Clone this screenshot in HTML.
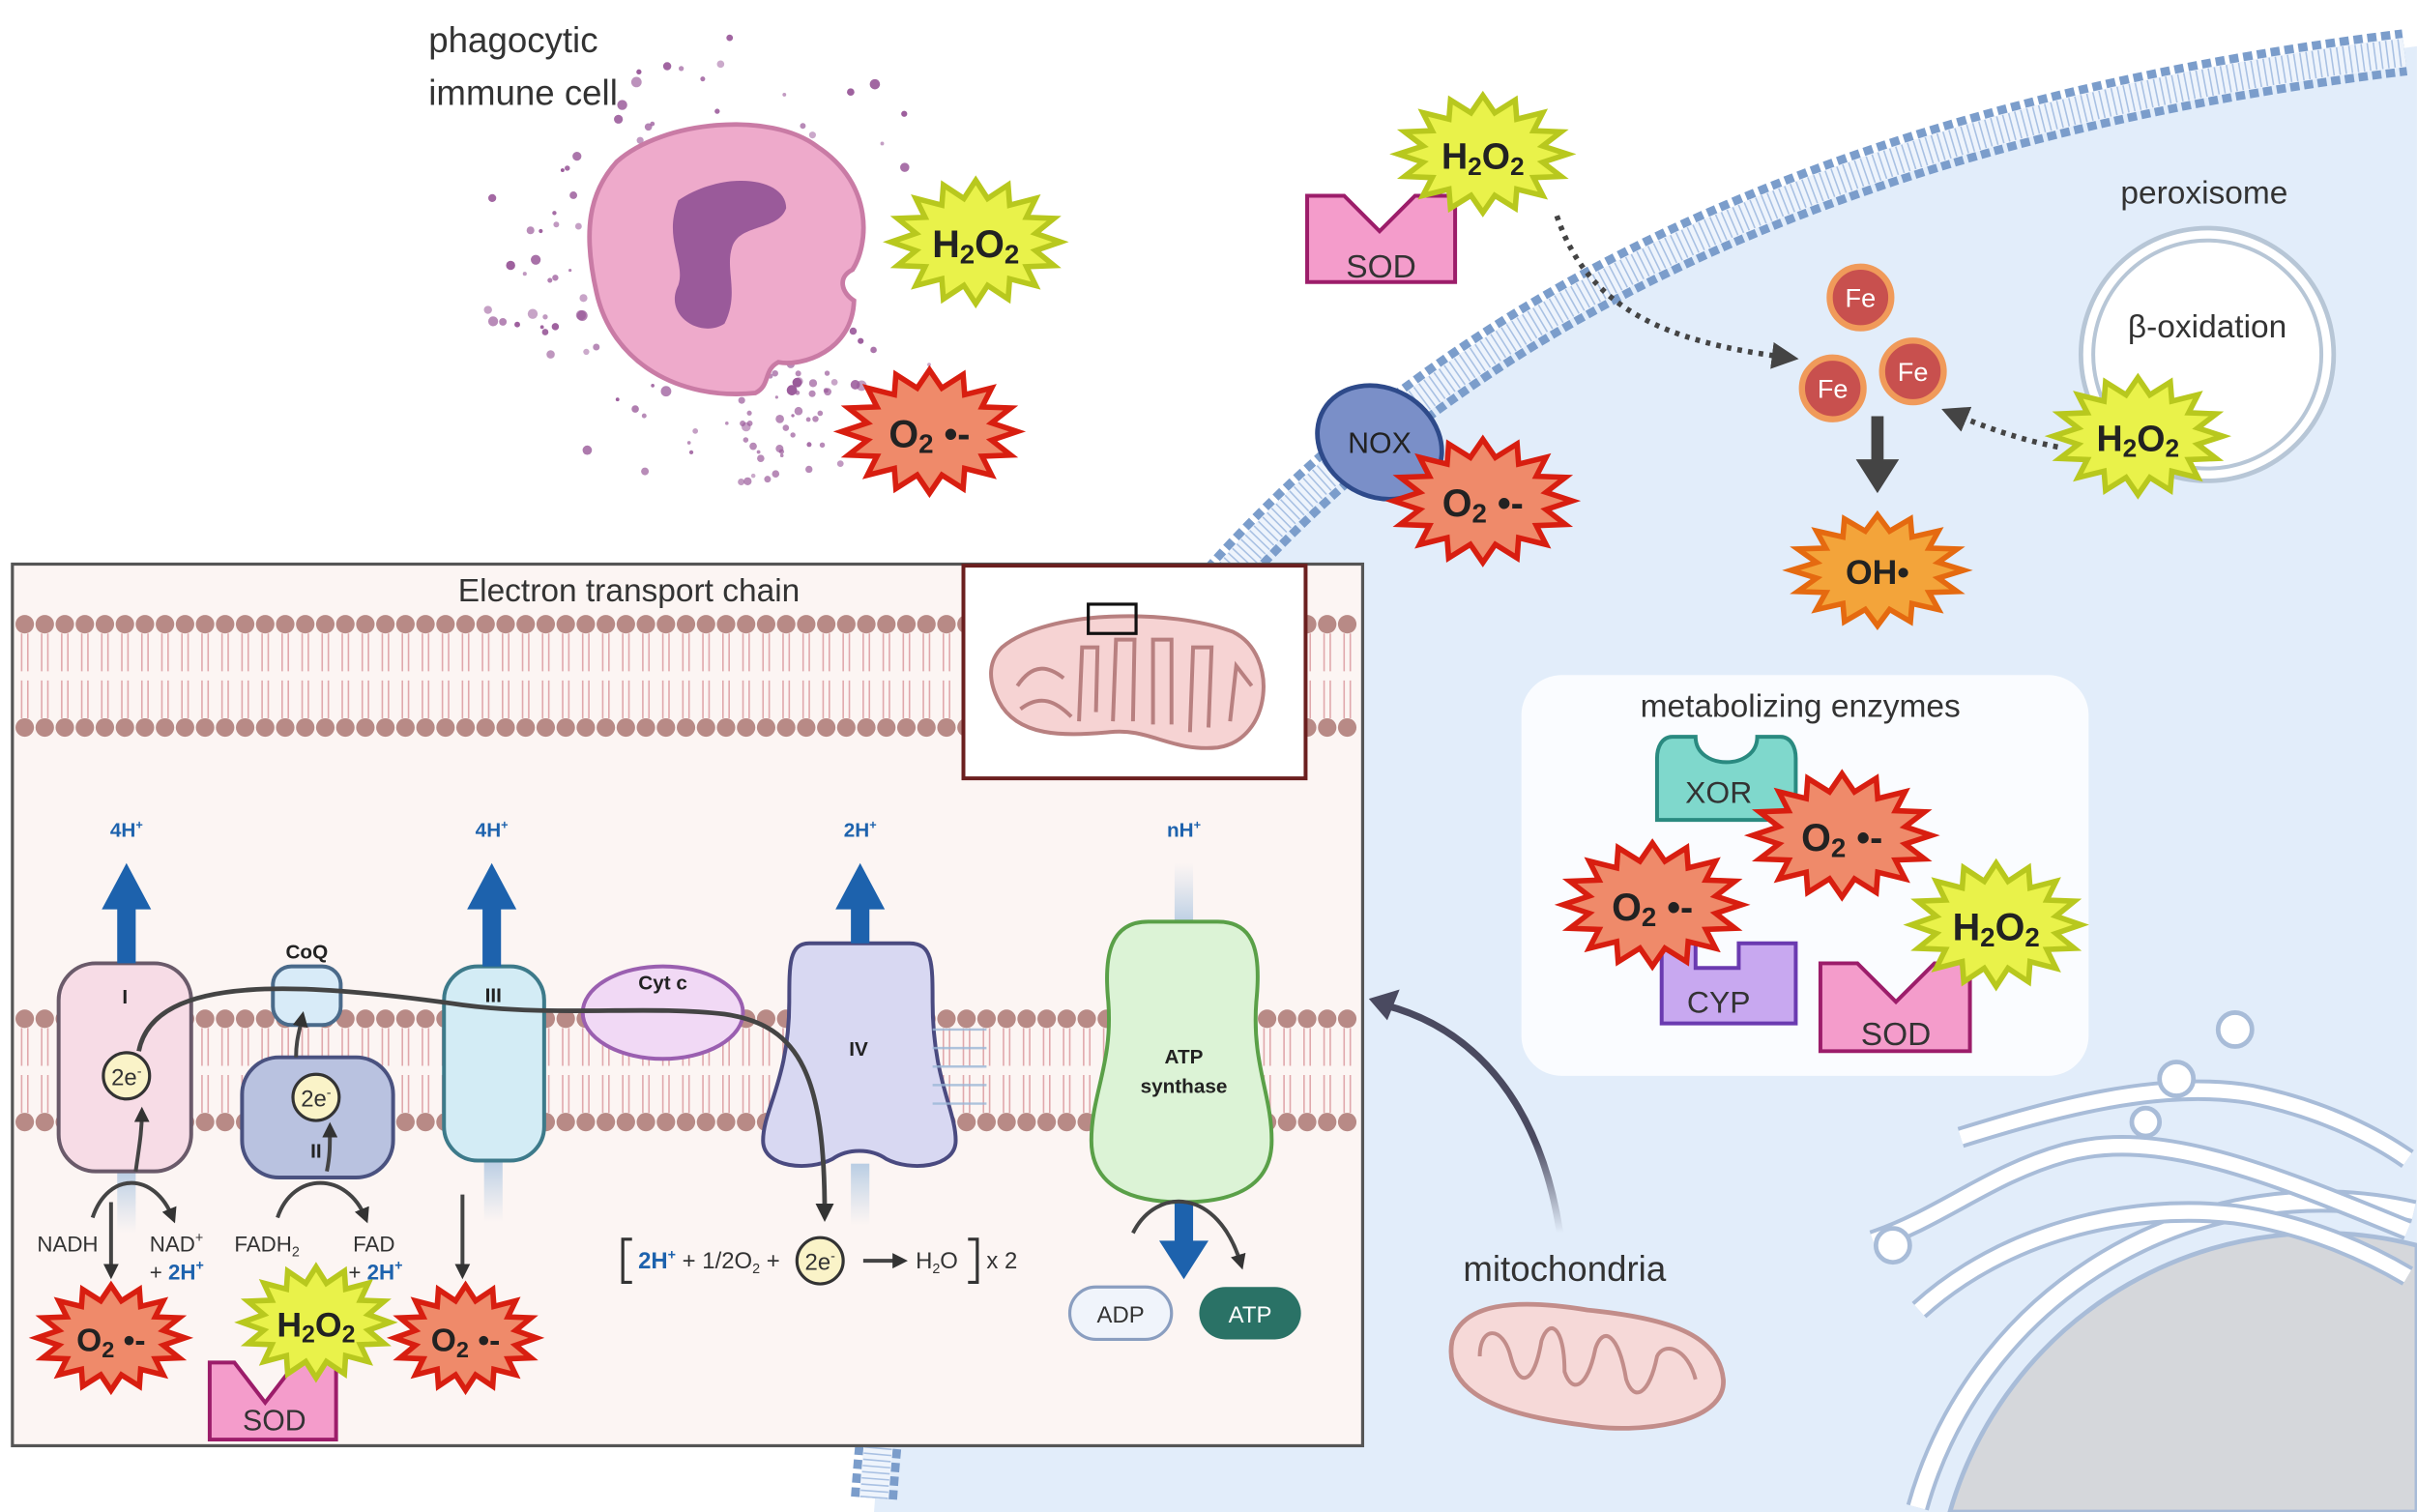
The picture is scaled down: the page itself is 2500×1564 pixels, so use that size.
<!DOCTYPE html>
<html><head><meta charset="utf-8">
<style>
html,body{margin:0;padding:0;background:#fff;width:2500px;height:1564px;overflow:hidden;}
svg{display:block;font-family:"Liberation Sans",sans-serif;}
</style></head>
<body>
<svg id="s" width="2500" height="1564" viewBox="0 0 1568 981" xmlns="http://www.w3.org/2000/svg">
<defs>
<linearGradient id="fade" x1="0" y1="1" x2="0" y2="0"><stop offset="0" stop-color="#4a4a60" stop-opacity="0"/><stop offset="0.4" stop-color="#4a4a60"/></linearGradient>
<linearGradient id="pale" x1="0" y1="0" x2="0" y2="1"><stop offset="0" stop-color="#c5d6e8" stop-opacity="0"/><stop offset="1" stop-color="#b9cde3"/></linearGradient>
<marker id="ah" viewBox="0 0 10 10" refX="6" refY="5" markerWidth="4" markerHeight="4" orient="auto"><path d="M0 0L10 5L0 10z" fill="#333"/></marker>
<marker id="ah2" viewBox="0 0 10 10" refX="6" refY="5" markerWidth="5" markerHeight="5" orient="auto"><path d="M0 0L10 5L0 10z" fill="#444"/></marker>
</defs>
<!-- cell -->
<path d="M567 981 C600 500 850 120 1568 30 L1568 981Z" fill="#e2edfa"/>
<path d="M567 972 C600 500 850 120 1560 34" fill="none" stroke="#7b9dcb" stroke-width="30" stroke-dasharray="6 3"/>
<path d="M567 972 C600 500 850 120 1560 34" fill="none" stroke="#eef4fc" stroke-width="19"/>
<path d="M567 972 C600 500 850 120 1560 34" fill="none" stroke="#a9c1e3" stroke-width="18" stroke-dasharray="1 3"/>
<!-- nucleus & ER -->
<path d="M1244 978 A272 272 0 0 1 1566 786" fill="none" stroke="#a8bcd8" stroke-width="15"/>
<path d="M1244 978 A272 272 0 0 1 1566 786" fill="none" stroke="#fff" stroke-width="10"/>
<path d="M1265 981 A250 250 0 0 1 1568 808 L1568 981Z" fill="#d5d7db" stroke="#a8bcd8" stroke-width="3"/>
<g fill="none">
<path d="M1215 805 C1260 790 1290 762 1340 748 C1400 732 1470 760 1562 798" stroke="#a8bcd8" stroke-width="14"/>
<path d="M1215 805 C1260 790 1290 762 1340 748 C1400 732 1470 760 1562 798" stroke="#fff" stroke-width="9"/>
<path d="M1245 850 C1300 800 1380 780 1450 788 C1500 795 1540 815 1562 828" stroke="#a8bcd8" stroke-width="14"/>
<path d="M1245 850 C1300 800 1380 780 1450 788 C1500 795 1540 815 1562 828" stroke="#fff" stroke-width="9"/>
<path d="M1272 738 C1330 720 1400 700 1460 710 C1510 720 1545 740 1562 752" stroke="#a8bcd8" stroke-width="14"/>
<path d="M1272 738 C1330 720 1400 700 1460 710 C1510 720 1545 740 1562 752" stroke="#fff" stroke-width="9"/>
</g>
<g fill="#fff" stroke="#a8bcd8" stroke-width="3">
<circle cx="1450" cy="668" r="11"/><circle cx="1412" cy="700" r="11"/><circle cx="1392" cy="728" r="9"/><circle cx="1228" cy="808" r="11"/>
</g>
<!-- phagocyte -->
<text x="278" y="34" font-size="23" fill="#333">phagocytic</text>
<text x="278" y="68" font-size="23" fill="#333">immune cell</text>
<g id="dots" fill="#9a5a9a"></g>
<path d="M400 105 C430 78 500 72 530 95 C568 120 563 160 553 175 C543 180 546 190 554 195 C553 228 520 238 505 235 C495 240 500 250 490 255 C440 260 397 235 387 190 C378 150 382 125 400 105Z" fill="#eeaacb" stroke="#c97ba5" stroke-width="3"/>
<path d="M440 130 C470 110 510 115 510 135 C505 150 480 145 475 160 C470 175 480 190 470 210 C455 220 430 205 440 185 C445 170 430 155 440 130Z" fill="#9a5a9a"/>
<!-- NOX -->
<ellipse cx="895" cy="287" rx="42" ry="35" transform="rotate(30 895 287)" fill="#7a8fc8" stroke="#2e4a8a" stroke-width="3"/>
<text x="895" y="294" font-size="19" text-anchor="middle" fill="#222">NOX</text>
<!-- SOD top -->
<path d="M848 127 L872 127 L895 150 L918 127 L944 127 L944 183 L848 183Z" fill="#f49ccb" stroke="#9c1d6a" stroke-width="2.5"/>
<text x="896" y="180" font-size="21" text-anchor="middle" fill="#333">SOD</text>
<!-- peroxisome -->
<circle cx="1432" cy="230" r="82" fill="#fff" stroke="#b7c6d6" stroke-width="3"/>
<circle cx="1432" cy="230" r="74" fill="#fff" stroke="#b7c6d6" stroke-width="2.5"/>
<text x="1430" y="132" font-size="21" text-anchor="middle" fill="#333">peroxisome</text>
<text x="1432" y="219" font-size="21" text-anchor="middle" fill="#333">β-oxidation</text>
<!-- dotted arrows -->
<path d="M1010 140 C1030 200 1080 222 1160 232" fill="none" stroke="#444" stroke-width="3.5" stroke-dasharray="3 4" marker-end="url(#ah2)"/>
<path d="M1335 290 C1310 285 1290 278 1266 268" fill="none" stroke="#444" stroke-width="3.5" stroke-dasharray="3 4" marker-end="url(#ah2)"/>
<!-- Fe -->
<g fill="#c8504e" stroke="#f09a5a" stroke-width="4">
<circle cx="1207" cy="193" r="20"/><circle cx="1189" cy="252" r="20"/><circle cx="1241" cy="241" r="20"/></g>
<g font-size="17" fill="#fff" text-anchor="middle"><text x="1207" y="199">Fe</text><text x="1189" y="258">Fe</text><text x="1241" y="247">Fe</text></g>
<path d="M1214 270 L1214 298 L1204 298 L1218 320 L1232 298 L1222 298 L1222 270Z" fill="#444"/>
<!-- metabolizing -->
<rect x="987" y="438" width="368" height="260" rx="26" fill="#fafcff"/>
<text x="1168" y="465" font-size="21" text-anchor="middle" fill="#333">metabolizing enzymes</text>
<path d="M1085 478 L1100 478 C1100 500 1140 500 1140 478 L1155 478 C1162 478 1165 485 1165 492 L1165 532 L1075 532 L1075 492 C1075 485 1078 478 1085 478Z" fill="#7fd8cc" stroke="#2a8a80" stroke-width="2.5"/>
<text x="1115" y="521" font-size="20" text-anchor="middle" fill="#333">XOR</text>
<path d="M1078 612 L1100 612 L1100 628 L1128 628 L1128 612 L1165 612 L1165 664 L1078 664Z" fill="#c8a8f0" stroke="#6a3ab0" stroke-width="2.5"/>
<text x="1115" y="657" font-size="20" text-anchor="middle" fill="#333">CYP</text>
<path d="M1181 625 L1205 625 L1230 650 L1255 625 L1278 625 L1278 682 L1181 682Z" fill="#f49ccb" stroke="#9c1d6a" stroke-width="2.5"/>
<text x="1230" y="678" font-size="21" text-anchor="middle" fill="#333">SOD</text>
<!-- mitochondria -->
<text x="1015" y="831" font-size="23" text-anchor="middle" fill="#333">mitochondria</text>
<path d="M942 870 C950 840 1000 845 1030 850 C1080 855 1115 865 1118 895 C1120 925 1060 930 1030 925 C990 920 935 910 942 870Z" fill="#f6d9d8" stroke="#c28d8a" stroke-width="3"/>
<path d="M960 880 C960 860 975 860 980 880 C985 900 995 900 1000 870 C1005 855 1015 860 1015 890 C1020 905 1030 900 1035 875 C1040 860 1050 865 1055 895 C1060 910 1070 905 1075 880 C1080 870 1095 875 1100 895" fill="none" stroke="#c28d8a" stroke-width="2.5"/>
<path d="M1012 800 C1000 720 960 668 898 652" fill="none" stroke="url(#fade)" stroke-width="4.5"/>
<path d="M888 648 L908 642 L900 662Z" fill="#4a4a60"/>
<!-- ETC box -->
<rect x="8" y="366" width="876" height="572" fill="#fcf5f3" stroke="#555" stroke-width="2"/>
<g id="mem"></g>
<text x="408" y="390" font-size="21" text-anchor="middle" fill="#333">Electron transport chain</text>
<rect x="625" y="367" width="222" height="138" fill="#fff" stroke="#6b1f1f" stroke-width="2.5"/>
<path d="M650 420 C680 395 760 395 800 410 C830 425 825 480 790 485 C760 488 745 472 720 475 C690 478 660 478 648 455 C640 440 642 428 650 420Z" fill="#f6d3d3" stroke="#b88080" stroke-width="2.5"/>
<path d="M660 445 C670 430 680 432 690 440 M662 460 C675 450 685 455 695 465 M700 468 L702 420 L712 420 L711 462 M722 468 L724 415 L736 415 L735 468 M748 470 L748 415 L760 415 L760 470 M772 475 L774 420 L786 420 L784 472 M798 468 L802 432 L812 445" fill="none" stroke="#b88080" stroke-width="2.5"/>
<rect x="706" y="392" width="31" height="19" fill="none" stroke="#111" stroke-width="2"/>
<!-- pale shafts -->
<rect x="76" y="760" width="12" height="40" fill="url(#pale)" transform="rotate(180 82 780)"/>
<rect x="314" y="753" width="12" height="40" fill="url(#pale)" transform="rotate(180 320 773)"/>
<rect x="552" y="755" width="12" height="40" fill="url(#pale)" transform="rotate(180 558 775)"/>
<rect x="762" y="560" width="12" height="40" fill="url(#pale)"/>
<!-- proteins -->
<rect x="38" y="625" width="86" height="135" rx="24" fill="#f7dce6" stroke="#6a5a6a" stroke-width="2.5"/>
<rect x="157" y="686" width="98" height="78" rx="24" fill="#b9c2e0" stroke="#4a5280" stroke-width="2.5"/>
<rect x="177" y="627" width="44" height="38" rx="12" fill="#d8ebf8" stroke="#4a6a8a" stroke-width="2.5"/>
<rect x="288" y="627" width="65" height="126" rx="22" fill="#d3ecf5" stroke="#3d7a8a" stroke-width="2.5"/>
<ellipse cx="430" cy="657" rx="52" ry="30" fill="#f1d9f5" stroke="#9a5fb0" stroke-width="2.5"/>
<path d="M525 612 L590 612 C605 612 605 625 605 650 C605 700 620 720 620 740 C620 758 590 760 575 752 C565 745 550 745 540 752 C525 760 495 758 495 740 C495 720 512 700 512 650 C512 625 512 612 525 612Z" fill="#d8d8f2" stroke="#4a4a80" stroke-width="2.5"/>
<path d="M745 598 L790 598 C815 598 818 620 815 650 C812 690 825 710 825 740 C825 770 800 780 767 780 C734 780 708 770 708 740 C708 710 722 690 719 650 C716 620 720 598 745 598Z" fill="#dcf3d6" stroke="#5aa048" stroke-width="2.5"/>
<g stroke="#9ab6d6" stroke-width="1.5" fill="none" opacity="0.8"><path d="M605 668 L640 668 M605 680 L640 680 M605 692 L640 692 M605 704 L640 704 M605 716 L640 716"/></g>
<!-- blue arrows -->
<g fill="#1d62ad">
<path d="M76 625 L76 590 L66 590 L82 560 L98 590 L88 590 L88 625Z"/>
<path d="M313 627 L313 590 L303 590 L319 560 L335 590 L325 590 L325 627Z"/>
<path d="M552 612 L552 590 L542 590 L558 560 L574 590 L564 590 L564 612Z"/>
<path d="M762 780 L762 805 L752 805 L768 830 L784 805 L774 805 L774 780Z"/>
</g>
<g font-size="13" font-weight="bold" fill="#1d62ad" text-anchor="middle">
<text x="82" y="543">4H<tspan font-size="8" dy="-5">+</tspan></text>
<text x="319" y="543">4H<tspan font-size="8" dy="-5">+</tspan></text>
<text x="558" y="543">2H<tspan font-size="8" dy="-5">+</tspan></text>
<text x="768" y="543">nH<tspan font-size="8" dy="-5">+</tspan></text>
</g>
<g font-size="13" font-weight="bold" fill="#222" text-anchor="middle">
<text x="81" y="651">I</text><text x="199" y="622">CoQ</text><text x="205" y="751">II</text><text x="320" y="650">III</text><text x="430" y="642">Cyt c</text><text x="557" y="685">IV</text>
<text x="768" y="690">ATP</text><text x="768" y="709">synthase</text></g>
<!-- electron path -->
<path d="M90 682 C100 630 200 638 300 652 C360 660 420 652 470 658 C520 665 535 700 535 788" fill="none" stroke="#444" stroke-width="3" marker-end="url(#ah)"/>
<circle cx="82" cy="698" r="15" fill="#faf3c8" stroke="#333" stroke-width="2"/>
<text x="82" y="704" font-size="15" text-anchor="middle" fill="#333">2e<tspan font-size="9" dy="-6">-</tspan></text>
<circle cx="205" cy="712" r="15" fill="#faf3c8" stroke="#333" stroke-width="2"/>
<text x="205" y="718" font-size="15" text-anchor="middle" fill="#333">2e<tspan font-size="9" dy="-6">-</tspan></text>
<!-- small arrows -->
<g fill="none" stroke="#444" stroke-width="2.5">
<path d="M60 790 C70 760 100 760 112 790" marker-end="url(#ah)"/>
<path d="M88 760 C90 745 92 735 92 722" marker-end="url(#ah)"/>
<path d="M180 790 C190 760 225 760 237 790" marker-end="url(#ah)"/>
<path d="M212 760 C214 750 214 745 214 732" marker-end="url(#ah)"/>
<path d="M192 686 C192 675 194 670 196 660" marker-end="url(#ah)"/>
<path d="M72 780 L72 826" marker-end="url(#ah)"/>
<path d="M300 775 L300 826" marker-end="url(#ah)"/>
<path d="M735 800 C750 770 790 770 805 820" marker-end="url(#ah)"/>
<path d="M560 818 L585 818" marker-end="url(#ah)"/>
</g>
<g font-size="14" fill="#333">
<text x="24" y="812">NADH</text><text x="97" y="812">NAD<tspan font-size="9" dy="-6">+</tspan></text>
<text x="97" y="830">+ <tspan fill="#1d62ad" font-weight="bold">2H<tspan font-size="9" dy="-6">+</tspan></tspan></text>
<text x="152" y="812">FADH<tspan font-size="9" dy="3">2</tspan></text><text x="229" y="812">FAD</text>
<text x="226" y="830">+ <tspan fill="#1d62ad" font-weight="bold">2H<tspan font-size="9" dy="-6">+</tspan></tspan></text>
</g>
<path d="M410 804 L404 804 L404 832 L410 832 M628 804 L634 804 L634 832 L628 832" fill="none" stroke="#333" stroke-width="2"/>
<text x="414" y="823" font-size="15" fill="#333"><tspan fill="#1d62ad" font-weight="bold">2H<tspan font-size="9" dy="-6">+</tspan></tspan><tspan dy="6"> + 1/2O</tspan><tspan font-size="9" dy="3">2</tspan><tspan dy="-3"> +</tspan></text>
<circle cx="532" cy="818" r="15" fill="#faf3c8" stroke="#333" stroke-width="2"/>
<text x="532" y="824" font-size="15" text-anchor="middle" fill="#333">2e<tspan font-size="9" dy="-6">-</tspan></text>
<text x="594" y="823" font-size="15" fill="#333">H<tspan font-size="9" dy="3">2</tspan><tspan dy="-3">O</tspan></text>
<text x="640" y="823" font-size="15" fill="#333">x 2</text>
<rect x="694" y="835" width="66" height="34" rx="17" fill="#f0f4fb" stroke="#8a9ec0" stroke-width="2"/>
<text x="727" y="858" font-size="15" text-anchor="middle" fill="#333">ADP</text>
<rect x="778" y="835" width="66" height="34" rx="17" fill="#2a7266"/>
<text x="811" y="858" font-size="15" text-anchor="middle" fill="#fff">ATP</text>
<path d="M136 884 L152 884 L172 910 L192 884 L218 884 L218 934 L136 934Z" fill="#f49ccb" stroke="#9c1d6a" stroke-width="2.5"/>
<text x="178" y="928" font-size="19" text-anchor="middle" fill="#333">SOD</text>
<g id="stars"></g>
</svg>
<script>
var NS="http://www.w3.org/2000/svg";
function el(t,a,p){var e=document.createElementNS(NS,t);for(var k in a)e.setAttribute(k,a[k]);p.appendChild(e);return e;}
var m=document.getElementById("mem");
function bilayer(y1,y2,x0,x1){
 for(var x=x0;x<=x1;x+=13){
  el("path",{d:"M"+(x-2)+" "+(y1+6)+"L"+(x-2)+" "+((y1+y2)/2-3)+"M"+(x+2)+" "+(y1+6)+"L"+(x+2)+" "+((y1+y2)/2-3)+"M"+(x-2)+" "+((y1+y2)/2+3)+"L"+(x-2)+" "+(y2-6)+"M"+(x+2)+" "+((y1+y2)/2+3)+"L"+(x+2)+" "+(y2-6),stroke:"#e0a8ac","stroke-width":"1",fill:"none"},m);
  el("circle",{cx:x,cy:y1,r:6,fill:"#b88a86"},m);el("circle",{cx:x,cy:y2,r:6,fill:"#b88a86"},m);
 }}
bilayer(405,472,16,880);bilayer(661,728,16,880);
var d=document.getElementById("dots");var seed=7;function rnd(){seed=(seed*9301+49297)%233280;return seed/233280;}
for(var i=0;i<90;i++){var a=rnd()*6.28,r=90+rnd()*60;var cx=470+Math.cos(a)*r*1.05,cy=170+Math.sin(a)*r;if(cx>560&&cy<210&&cy>110)continue;if(cy<8)continue;el("circle",{cx:cx,cy:cy,r:1+rnd()*2.5,opacity:0.5+rnd()*0.5},d);}
for(var i=0;i<40;i++){el("circle",{cx:480+rnd()*60,cy:235+rnd()*80,r:1+rnd()*2,opacity:0.7},d);}
var s=document.getElementById("stars");
function star(cx,cy,rx,ry,type,lab){
 var n=16,p=[];for(var i=0;i<2*n;i++){var a=i*Math.PI/n,f=i%2?0.72:1;p.push((cx+Math.cos(a)*rx*f).toFixed(1)+","+(cy+Math.sin(a)*ry*f).toFixed(1));}
 var c={o:["#ef8a6a","#d81e10"],h:["#e9f24a","#b8c81e"],oh:["#f3a43a","#e56a10"]}[type];
 el("polygon",{points:p.join(" "),fill:c[0],stroke:c[1],"stroke-width":3.5,"stroke-linejoin":"miter"},s);
 var t=el("text",{x:cx,y:cy+ry*0.25,"font-size":ry*0.62,"font-weight":"bold","text-anchor":"middle",fill:"#222"},s);
 t.innerHTML=lab;
}
var O='O<tspan font-size="70%" dy="4">2</tspan><tspan dy="-4"> •-</tspan>';
var H='H<tspan font-size="70%" dy="4">2</tspan><tspan dy="-4">O</tspan><tspan font-size="70%" dy="4">2</tspan>';
star(633,157,55,40,"h",H);star(603,280,57,40,"o",O);star(962,100,55,38,"h",H);star(962,325,58,40,"o",O);
star(1387,283,55,38,"h",H);star(1218,370,56,36,"oh",'OH•');
star(1195,542,58,40,"o",O);star(1072,587,58,40,"o",O);star(1295,600,55,40,"h",H);
star(72,868,48,34,"o",O);star(205,858,48,36,"h",H);star(302,868,46,34,"o",O);
</script>
</body></html>
